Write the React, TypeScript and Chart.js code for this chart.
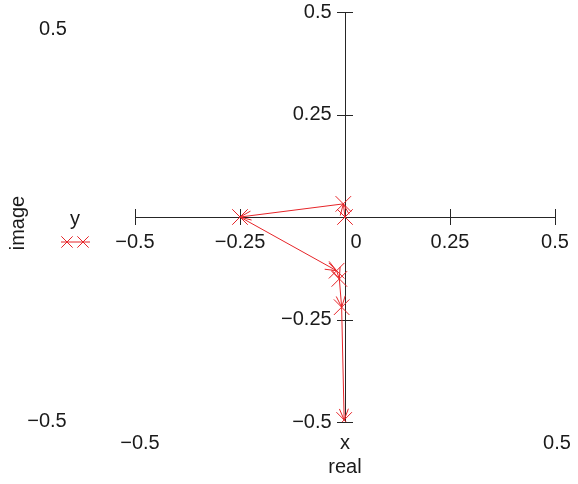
import React, { useEffect, useRef } from 'react';
import { Chart, registerables } from 'chart.js';

Chart.register(...registerables);

// ---- data ----
const realValues = [0, -0.004, -0.25, -0.02, -0.0135, -0.008, -0.002];
const imageValues = [0, 0.032, 0, -0.131, -0.151, -0.22, -0.495];
const xTickValues = [-0.5, -0.25, 0, 0.25, 0.5];
const yTickValues = [-0.5, -0.25, 0.25, 0.5];
const seriesName = 'y';
const xTitle = 'real';
const yTitle = 'image';
const xVarName = 'x';
const xRangeLabels = ['\u22120.5', '0.5'];
const yRangeLabels = ['0.5', '\u22120.5'];

// ---- style ----
const RED = 'rgb(230,36,40)';
const AXIS = '#262626';
const TEXT = '#1a1a1a';
const FONT_FAMILY = '"Liberation Sans", Arial, Helvetica, sans-serif';
const FONT_SIZE = 20;

const fmt = (v: number) => {
  if (v === 0) return '0';
  const s = String(Math.abs(v));
  return v < 0 ? '\u2212' + s : s;
};

const noPadding = (s: any) => {
  s.paddingTop = 0;
  s.paddingBottom = 0;
  s.paddingLeft = 0;
  s.paddingRight = 0;
};

const drawCross = (ctx: CanvasRenderingContext2D, x: number, y: number, r: number) => {
  const o = r * Math.SQRT1_2;
  ctx.beginPath();
  ctx.moveTo(x - o, y - o);
  ctx.lineTo(x + o, y + o);
  ctx.moveTo(x - o, y + o);
  ctx.lineTo(x + o, y - o);
  ctx.stroke();
};

const extras = {
  id: 'extras',
  beforeDatasetsDraw(chart: any) {
    const { ctx } = chart;
    const xs = chart.scales.x;
    const ys = chart.scales.y;
    const x0 = xs.getPixelForValue(0);
    const y0 = ys.getPixelForValue(0);
    const T = 8;
    ctx.save();
    ctx.strokeStyle = AXIS;
    ctx.lineWidth = 1;
    ctx.beginPath();
    for (const v of xTickValues) {
      const px = Math.round(xs.getPixelForValue(v)) + 0.5;
      ctx.moveTo(px, y0 - T);
      ctx.lineTo(px, y0 + T);
    }
    for (const v of yTickValues) {
      const py = Math.round(ys.getPixelForValue(v)) + 0.5;
      ctx.moveTo(x0 - T, py);
      ctx.lineTo(x0 + T, py);
    }
    ctx.stroke();
    ctx.restore();
  },
  afterDatasetsDraw(chart: any) {
    const { ctx } = chart;
    const pts = chart.getDatasetMeta(0).data;
    const L = 12;
    const A = (22 * Math.PI) / 180;
    ctx.save();
    ctx.strokeStyle = RED;
    ctx.lineWidth = 1;
    for (let i = 1; i < pts.length; i++) {
      const a = pts[i - 1];
      const b = pts[i];
      const ang = Math.atan2(b.y - a.y, b.x - a.x);
      ctx.beginPath();
      for (const s of [-1, 1]) {
        const t = ang + Math.PI + s * A;
        ctx.moveTo(b.x, b.y);
        ctx.lineTo(b.x + Math.cos(t) * L, b.y + Math.sin(t) * L);
      }
      ctx.stroke();
    }
    ctx.restore();
  },
  afterDraw(chart: any) {
    const { ctx, chartArea } = chart;
    const xs = chart.scales.x;
    const ys = chart.scales.y;
    ctx.save();
    ctx.fillStyle = TEXT;
    ctx.font = `${FONT_SIZE}px ${FONT_FAMILY}`;
    ctx.textAlign = 'center';
    ctx.textBaseline = 'middle';
    // y range labels on the far left
    ctx.fillText(yRangeLabels[0], 53, ys.getPixelForValue(0.5) + 17);
    ctx.fillText(yRangeLabels[1], 47, ys.getPixelForValue(-0.5) - 1);
    // x range labels under the plot
    const by = chartArea.bottom + 21;
    ctx.fillText(xRangeLabels[0], xs.getPixelForValue(-0.5) + 5, by);
    ctx.fillText(xRangeLabels[1], xs.getPixelForValue(0.5) + 2, by);
    ctx.fillText(xVarName, xs.getPixelForValue(0), by);
    ctx.fillText(xTitle, xs.getPixelForValue(0), by + 24);
    // y title rotated
    ctx.save();
    ctx.translate(18, ys.getPixelForValue(0) + 6);
    ctx.rotate(-Math.PI / 2);
    ctx.fillText(yTitle, 0, 0);
    ctx.restore();
    // legend
    const ds = chart.data.datasets[0];
    const ly = ys.getPixelForValue(0) + 25;
    ctx.fillText(ds.label, 75, ly - 23);
    ctx.strokeStyle = RED;
    ctx.lineWidth = 1;
    ctx.beginPath();
    ctx.moveTo(61, ly);
    ctx.lineTo(90, ly);
    ctx.stroke();
    drawCross(ctx, 67, ly, 8);
    drawCross(ctx, 83, ly, 8);
    ctx.restore();
  },
};

export default function App() {
  const ref = useRef<HTMLCanvasElement>(null);
  useEffect(() => {
    const canvas = ref.current!;
    const points = realValues.map((x, i) => ({ x, y: imageValues[i] }));
    const chart = new Chart(canvas, {
      type: 'scatter',
      data: {
        datasets: [
          {
            label: seriesName,
            data: points,
            showLine: true,
            borderColor: RED,
            backgroundColor: RED,
            borderWidth: 1,
            pointStyle: 'crossRot',
            pointRadius: 11,
            pointBorderWidth: 1,
            pointBorderColor: RED,
            pointHoverRadius: 11,
          },
        ],
      },
      options: {
        responsive: false,
        animation: false,
        events: [],
        layout: { padding: { left: 135, right: 23, top: 10, bottom: 62 } },
        plugins: { legend: { display: false }, tooltip: { enabled: false }, title: { display: false } },
        scales: {
          x: {
            type: 'linear',
            min: -0.5,
            max: 0.5,
            position: { y: 0 } as any,
            afterBuildTicks: (s: any) => {
              s.ticks = xTickValues.map((value) => ({ value }));
            },
            afterFit: noPadding,
            grid: { display: false, drawTicks: false },
            border: { display: true, color: AXIS, width: 1 },
            ticks: {
              padding: 13,
              maxRotation: 0,
              autoSkip: false,
              color: TEXT,
              font: { family: FONT_FAMILY, size: FONT_SIZE },
              callback: (v: any) => (Number(v) === 0 ? '    0' : fmt(Number(v))),
            },
          },
          y: {
            type: 'linear',
            min: -0.5,
            max: 0.5,
            position: { x: 0 } as any,
            afterBuildTicks: (s: any) => {
              s.ticks = yTickValues.map((value) => ({ value }));
            },
            afterFit: noPadding,
            grid: { display: false, drawTicks: false },
            border: { display: true, color: AXIS, width: 1 },
            ticks: {
              autoSkip: false,
              color: TEXT,
              font: { family: FONT_FAMILY, size: FONT_SIZE },
              callback: (v: any) => fmt(Number(v)) + '\u2002\u2006',
            },
          },
        },
      },
      plugins: [extras],
    });
    return () => chart.destroy();
  }, []);
  return (
    <div style={{ position: 'fixed', left: 0, top: 0, width: 578, height: 484, background: '#fff' }}>
      <canvas ref={ref} width={578} height={484} style={{ display: 'block' }} />
    </div>
  );
}
